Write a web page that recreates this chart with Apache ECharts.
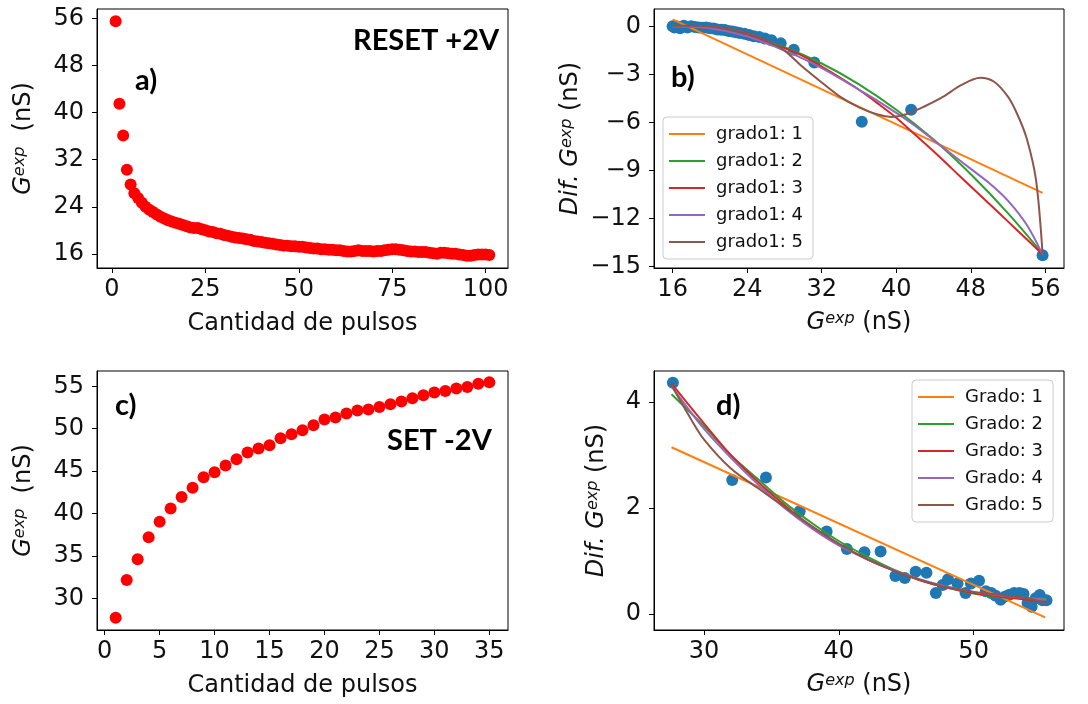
<!DOCTYPE html>
<html>
<head>
<meta charset="utf-8">
<script src="https://cdn.jsdelivr.net/npm/echarts@6/dist/echarts.min.js"></script>
<style>
  html, body { margin: 0; padding: 0; background: #fff; }
  #main { width: 1088px; height: 704px; }
</style>
</head>
<body>
<div id="main"></div>
<script>
  // a) RESET +2V : conductance per pulse
  let pulsosA = [1,2,3,4,5,6,7,8,9,10,11,12,13,14,15,16,17,18,19,20,21,22,23,24,25,26,27,28,29,30,
    31,32,33,34,35,36,37,38,39,40,41,42,43,44,45,46,47,48,49,50,51,52,53,54,55,56,57,58,59,60,
    61,62,63,64,65,66,67,68,69,70,71,72,73,74,75,76,77,78,79,80,81,82,83,84,85,86,87,88,89,90,
    91,92,93,94,95,96,97,98,99,100,101];
  let gA = [55.5,41.5,36.1,30.3,27.8,26.3,25.5,24.7,24.0,23.5,
    23.1,22.7,22.3,22.0,21.7,21.5,21.3,21.1,20.9,20.7,
    20.5,20.4,20.4,20.2,20.0,19.8,19.7,19.5,19.4,19.2,
    19.1,18.9,18.8,18.7,18.6,18.5,18.4,18.2,18.1,18.0,
    17.9,17.8,17.7,17.6,17.5,17.4,17.4,17.3,17.3,17.2,
    17.2,17.1,17.0,16.9,16.9,16.8,16.8,16.7,16.7,16.6,
    16.6,16.5,16.4,16.4,16.5,16.6,16.5,16.5,16.5,16.4,
    16.5,16.5,16.6,16.7,16.8,16.8,16.7,16.6,16.5,16.4,
    16.4,16.3,16.3,16.3,16.2,16.1,16.0,16.2,16.2,16.1,
    16.0,16.0,15.9,15.8,15.7,15.7,15.8,15.9,15.9,15.9,15.8];

  // b) difference vs G (RESET)
  let gB = [55.7,41.6,36.3,31.2,29.0,27.6,26.6,25.9,25.3,24.7,24.2,23.7,23.2,22.8,22.4,22.0,
    21.6,21.2,20.8,20.4,20.0,19.6,19.2,18.8,18.4,18.0,17.6,17.2,16.8,16.5,16.2,16.0];
  let difB = [-14.3,-5.2,-5.95,-2.25,-1.45,-1.05,-0.85,-0.75,-0.65,-0.6,-0.52,-0.45,-0.4,-0.35,-0.3,-0.28,
    -0.22,-0.2,-0.18,-0.12,-0.1,-0.05,-0.08,-0.05,-0.02,0.02,-0.05,0.05,-0.1,0,-0.05,0.02];
  let fitB = {
    'grado1: 1': [[16,0.45],[55.7,-10.4]],
    'grado1: 2': [[16,0.05],[20,-0.11],[24,-0.56],[28,-1.29],[32,-2.31],[36,-3.61],[40,-5.2],[44,-7.07],[48,-9.24],[52,-11.68],[55.7,-14.2]],
    'grado1: 3': [[16,0],[20,-0.1],[24,-0.55],[28,-1.35],[30,-1.85],[32,-2.5],[34,-3.2],[36,-3.95],[38,-4.8],[40,-5.7],[42,-6.75],[44,-7.8],[46,-8.9],[48,-10.0],[50,-11.1],[52,-12.2],[54,-13.3],[55.7,-14.25]],
    'grado1: 4': [[16,0],[20,-0.1],[24,-0.6],[28,-1.5],[30,-2.0],[32,-2.6],[34,-3.25],[36,-3.95],[38,-4.65],[40,-5.4],[42,-6.2],[44,-7.1],[46,-8.0],[48,-8.9],[50,-9.8],[52,-10.9],[54,-12.4],[55.7,-14.25]],
    'grado1: 5': [[16,0.05],[18,0.05],[20,0],[22,-0.12],[24,-0.4],[26,-0.85],[28,-1.5],[30,-2.55],[32,-3.5],[34,-4.4],[36,-5.05],[38,-5.5],[39.5,-5.65],[41,-5.5],[43,-5.0],[45,-4.4],[47,-3.65],[49,-3.2],[50.5,-3.45],[52,-4.4],[53,-5.5],[54,-7.0],[55,-9.6],[55.7,-14.2]]
  };

  // c) SET -2V : conductance per pulse
  let pulsosC = [1,2,3,4,5,6,7,8,9,10,11,12,13,14,15,16,17,18,19,20,21,22,23,24,25,26,27,28,29,30,31,32,33,34,35];
  let gC = [27.73,32.2,34.62,37.21,39.05,40.62,41.95,43.05,44.3,44.89,45.67,46.42,47.2,47.67,48.06,48.89,49.36,49.83,
    50.42,51.08,51.32,51.79,52.14,52.26,52.57,52.88,53.2,53.59,53.94,54.26,54.45,54.73,54.92,55.31,55.47];

  // d) difference vs G (SET)
  let gD = [27.7,32.1,34.6,37.1,39.1,40.6,41.9,43.1,44.2,44.9,45.7,46.5,47.2,47.7,48.1,48.8,49.4,49.8,
    50.4,50.9,51.3,51.6,52.0,52.3,52.6,53.0,53.4,53.7,54.0,54.3,54.6,54.9,55.1,55.4];
  let difD = [4.37,2.53,2.58,1.94,1.56,1.23,1.17,1.18,0.72,0.68,0.80,0.78,0.40,0.55,0.66,0.58,0.40,0.58,
    0.63,0.43,0.40,0.35,0.27,0.33,0.36,0.40,0.40,0.38,0.21,0.14,0.30,0.36,0.26,0.26];
  let fitD = {
    'Grado: 1': [[27.6,3.15],[55.3,-0.06]],
    'Grado: 2': [[27.6,4.15],[30,3.55],[32,3.0],[34,2.55],[36,2.1],[38,1.72],[40,1.38],[42,1.1],[44,0.85],[46,0.65],[48,0.5],[50,0.39],[52,0.32],[54,0.3],[55.4,0.3]],
    'Grado: 3': [[27.6,4.35],[30,3.6],[32,3.0],[34,2.5],[36,2.05],[38,1.65],[40,1.32],[42,1.05],[44,0.83],[46,0.64],[48,0.5],[50,0.4],[52,0.33],[54,0.27],[55.4,0.22]],
    'Grado: 4': [[27.6,4.3],[30,3.5],[32,2.95],[34,2.45],[36,2.0],[38,1.62],[40,1.3],[42,1.05],[44,0.84],[46,0.66],[48,0.52],[50,0.42],[52,0.35],[54,0.3],[55.4,0.27]],
    'Grado: 5': [[27.6,4.32],[29,3.7],[30,3.3],[32,2.75],[34,2.38],[36,2.02],[38,1.66],[40,1.33],[42,1.05],[44,0.83],[46,0.65],[48,0.51],[50,0.42],[52,0.36],[54,0.3],[55.4,0.2]]
  };

  // tick labels
  let ticksAx = [0,25,50,75,100];
  let ticksAy = [16,24,32,40,48,56];
  let ticksBx = [16,24,32,40,48,56];
  let ticksBy = [-15,-12,-9,-6,-3,0];
  let ticksCx = [0,5,10,15,20,25,30,35];
  let ticksCy = [30,35,40,45,50,55];
  let ticksDx = [30,40,50];
  let ticksDy = [0,2,4];

  let fitColors = ['#ff7f0e','#2ca02c','#d62728','#9467bd','#8c564b'];
  let font = 'DejaVu Sans';
  let ink = '#111';

  let nameRich = {
    i: {fontFamily: font, fontStyle: 'italic', fontSize: 24, lineHeight: 24, verticalAlign: 'bottom', color: ink},
    s: {fontFamily: font, fontStyle: 'italic', fontSize: 16, lineHeight: 16, padding: [0,0,12,0], verticalAlign: 'top', color: ink},
    n: {fontFamily: font, fontSize: 24, lineHeight: 24, verticalAlign: 'bottom', color: ink}
  };

  function axis(gridIndex, min, max, ticks, name, nameGap, isY) {
    return {
      type: 'value', gridIndex: gridIndex, min: min, max: max,
      name: name, nameLocation: 'middle', nameGap: nameGap,
      nameTextStyle: {fontFamily: font, fontSize: 24, color: ink, rich: nameRich},
      axisLine: {show: true, onZero: false, lineStyle: {color: '#000', width: 1}},
      axisTick: {show: true, length: 5, customValues: ticks, lineStyle: {color: '#000', width: 1}},
      axisLabel: {
        customValues: ticks, fontFamily: font, fontSize: 24, color: ink, margin: isY ? 13 : 10,
        formatter: function (v) { return String(v).replace('-', '\u2212'); }
      },
      splitLine: {show: false}
    };
  }

  function pairs(xs, ys) {
    return xs.map(function (x, k) { return [x, ys[k]]; });
  }

  function fitSeries(fits, idx) {
    return Object.keys(fits).map(function (name, k) {
      return {
        name: name, type: 'line', xAxisIndex: idx, yAxisIndex: idx,
        data: fits[name], showSymbol: false, smooth: 0.3,
        color: fitColors[k], lineStyle: {width: 2, color: fitColors[k]}, z: 3
      };
    });
  }

  function legend(names, left, top) {
    return {
      data: names, orient: 'vertical', left: left, top: top,
      icon: 'rect', itemWidth: 36, itemHeight: 2, itemGap: 9,
      padding: [8, 10, 8, 6],
      borderColor: '#ccc', borderWidth: 1, borderRadius: 4,
      backgroundColor: 'rgba(255,255,255,0.8)',
      textStyle: {fontFamily: font, fontSize: 18, color: ink, padding: [0,0,0,6]},
      selectedMode: false
    };
  }

  function tag(text, x, y) {
    return {
      type: 'text', left: x, top: y, z: 10,
      style: {text: text, fontFamily: 'Lato', fontWeight: 'bold', fontSize: 29, fill: '#000'}
    };
  }

  let chart = echarts.init(document.getElementById('main'));
  let option = {
    animation: false,
    backgroundColor: '#fff',
    grid: [
      {left: 97, top: 9, width: 411, height: 259, show: true, borderColor: '#000', borderWidth: 1},
      {left: 654, top: 9, width: 410, height: 259, show: true, borderColor: '#000', borderWidth: 1},
      {left: 97, top: 371, width: 411, height: 259, show: true, borderColor: '#000', borderWidth: 1},
      {left: 654, top: 371, width: 410, height: 259, show: true, borderColor: '#000', borderWidth: 1}
    ],
    xAxis: [
      axis(0, -4, 106, ticksAx, 'Cantidad de pulsos', 44, false),
      axis(1, 14, 58, ticksBx, '{i|G}{s|exp}{n| (nS)}', 43, false),
      axis(2, -0.7, 36.7, ticksCx, 'Cantidad de pulsos', 44, false),
      axis(3, 26.3, 56.7, ticksDx, '{i|G}{s|exp}{n| (nS)}', 43, false)
    ],
    yAxis: [
      axis(0, 13.6, 57.6, ticksAy, '{i|G}{s|exp}{n|  (nS)}', 61, true),
      axis(1, -15.1, 1.1, ticksBy, '{i|Dif. G}{s|exp}{n| (nS)}', 71, true),
      axis(2, 26.3, 56.8, ticksCy, '{i|G}{s|exp}{n|  (nS)}', 61, true),
      axis(3, -0.3, 4.59, ticksDy, '{i|Dif. G}{s|exp}{n| (nS)}', 45, true)
    ],
    legend: [
      legend(Object.keys(fitB), 663, 117),
      legend(Object.keys(fitD), 912, 380)
    ],
    graphic: [
      tag('RESET +2V', 353, 26),
      tag('a)', 135, 66),
      tag('b)', 671, 63),
      tag('c)', 115, 391),
      tag('SET -2V', 387, 426),
      tag('d)', 716, 391)
    ],
    series: [
      {name: 'G RESET', type: 'scatter', xAxisIndex: 0, yAxisIndex: 0, data: pairs(pulsosA, gA),
        symbolSize: 12, itemStyle: {color: '#ff0000', opacity: 1}},
      {name: 'dif RESET', type: 'scatter', xAxisIndex: 1, yAxisIndex: 1, data: pairs(gB, difB),
        symbolSize: 12, itemStyle: {color: '#1f77b4', opacity: 1}, z: 2}
    ].concat(fitSeries(fitB, 1)).concat([
      {name: 'G SET', type: 'scatter', xAxisIndex: 2, yAxisIndex: 2, data: pairs(pulsosC, gC),
        symbolSize: 12, itemStyle: {color: '#ff0000', opacity: 1}},
      {name: 'dif SET', type: 'scatter', xAxisIndex: 3, yAxisIndex: 3, data: pairs(gD, difD),
        symbolSize: 12, itemStyle: {color: '#1f77b4', opacity: 1}, z: 2}
    ]).concat(fitSeries(fitD, 3))
  };
  chart.setOption(option);
</script>
</body>
</html>
